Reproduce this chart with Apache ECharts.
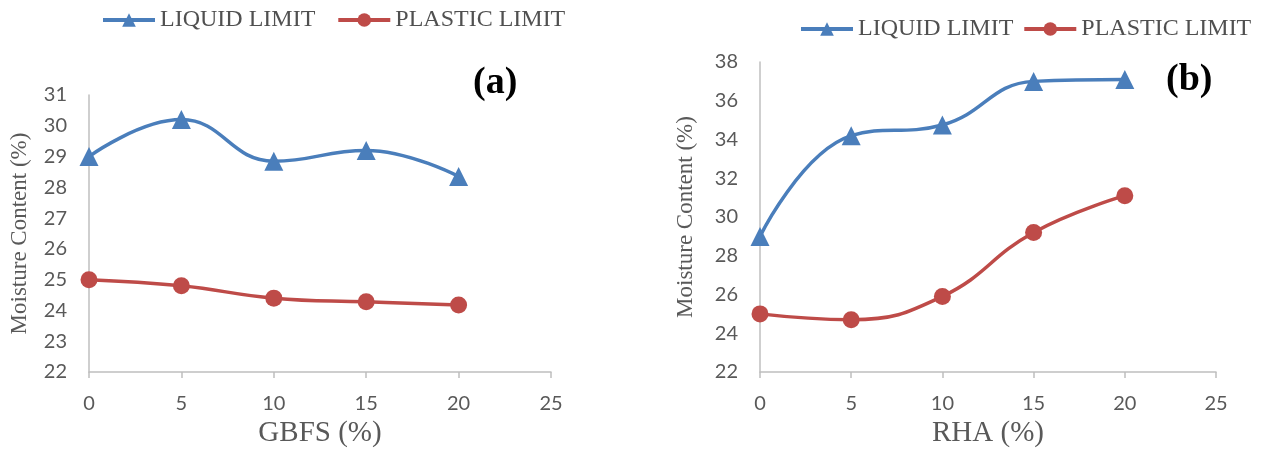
<!DOCTYPE html>
<html><head><meta charset="utf-8">
<script src="https://cdn.jsdelivr.net/npm/echarts@6/dist/echarts.min.js"></script>
<style>html,body{margin:0;padding:0;background:#fff}#c{width:1262px;height:452px}</style>
</head><body><div id="c"></div>
<script>
const xValues = [0, 5, 10, 15, 20];
const seriesNames = ['LIQUID LIMIT', 'PLASTIC LIMIT'];
const gbfsLiquid = [29.0, 30.2, 28.85, 29.2, 28.35];
const gbfsPlastic = [25.0, 24.8, 24.4, 24.28, 24.18];
const rhaLiquid = [29.0, 34.2, 34.75, 37.0, 37.1];
const rhaPlastic = [25.0, 24.7, 25.9, 29.2, 31.1];
const panelLabels = ['(a)', '(b)'];
const xTitles = ['GBFS (%)', 'RHA (%)'];
const yTitle = 'Moisture Content (%)';

const BLUE = '#4a7ebb', RED = '#be4b48', AXIS = '#bfbfbf', TXT = '#595959';
const pairs = (ys) => xValues.map((x, i) => [x, ys[i]]);
const chart = echarts.init(document.getElementById('c'));

function xAxis(gi, title) {
  return {
    gridIndex: gi, type: 'value', min: 0, max: 25, interval: 5,
    name: title, nameLocation: 'middle', nameGap: 46,
    nameTextStyle: { fontFamily: 'Liberation Serif', fontSize: 29, color: TXT },
    axisLine: { show: true, onZero: false, lineStyle: { color: AXIS, width: 1.5 } },
    axisTick: { show: true, length: 6, lineStyle: { color: AXIS, width: 1.5 } },
    axisLabel: { fontFamily: 'Lato', fontSize: 20, color: TXT, margin: 22 },
    splitLine: { show: false }
  };
}
function yAxis(gi, min, max, interval, gap) {
  return {
    gridIndex: gi, type: 'value', min, max, interval,
    name: yTitle, nameLocation: 'middle', nameGap: gap, nameRotate: 90,
    nameTextStyle: { fontFamily: 'Liberation Serif', fontSize: 23, color: TXT },
    axisLine: { show: true, lineStyle: { color: AXIS, width: 1.5 } },
    axisTick: { show: false },
    axisLabel: { fontFamily: 'Lato', fontSize: 20, color: TXT, margin: 22 },
    splitLine: { show: false }
  };
}
function line(name, data, gi, color, symbol, size) {
  return {
    name, type: 'line', xAxisIndex: gi, yAxisIndex: gi, data: pairs(data),
    smooth: 0.45, symbol, symbolSize: size,
    lineStyle: { color, width: 3.5 }, itemStyle: { color },
    z: name === seriesNames[0] ? 3 : 2
  };
}
const legendStyle = { fontFamily: 'Liberation Serif', fontSize: 24, color: '#505050' };
const titleStyle = { fontFamily: 'Liberation Serif', fontSize: 38, fontWeight: 'bold', color: '#000' };
const legendCommon = { data: seriesNames, padding: 0, itemWidth: 52, itemHeight: 17, textStyle: legendStyle, lineStyle: { width: 4 } };
chart.setOption({
  animation: false,
  grid: [
    { left: 89, top: 95, width: 462, height: 277, outerBoundsMode: 'none', containLabel: false },
    { left: 760, top: 62, width: 456, height: 310, outerBoundsMode: 'none', containLabel: false }
  ],
  title: [
    { text: panelLabels[0], left: 473, top: 64, padding: 0, textStyle: titleStyle },
    { text: panelLabels[1], left: 1166, top: 61, padding: 0, textStyle: titleStyle }
  ],
  legend: [
    Object.assign({ left: 101, top: 8, itemGap: 21 }, legendCommon),
    Object.assign({ left: 799, top: 17, itemGap: 9 }, legendCommon)
  ],
  xAxis: [xAxis(0, xTitles[0]), xAxis(1, xTitles[1])],
  yAxis: [yAxis(0, 22, 31, 1, 58), yAxis(1, 22, 38, 2, 63)],
  series: [
    line(seriesNames[0], gbfsLiquid, 0, BLUE, 'triangle', 19),
    line(seriesNames[1], gbfsPlastic, 0, RED, 'circle', 17),
    line(seriesNames[0], rhaLiquid, 1, BLUE, 'triangle', 19),
    line(seriesNames[1], rhaPlastic, 1, RED, 'circle', 17)
  ]
});
</script></body></html>
